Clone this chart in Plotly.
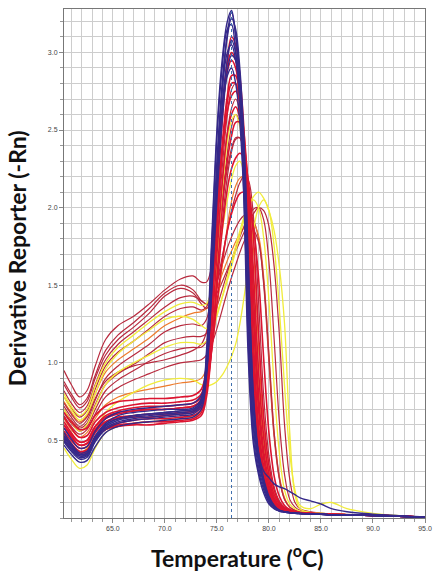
import plotly.graph_objects as go

# Temperature grid (deg C) shared by all melt curves
temps = [60.3, 61.0, 61.8, 62.5, 63.3, 64.3, 65.5, 67.0, 68.5, 70.0,
         71.5, 72.7, 73.5, 74.0, 74.5, 75.0, 75.5, 76.0, 76.4, 76.8,
         77.2, 77.6, 78.0, 78.5, 79.0, 79.5, 80.0, 80.5, 81.0, 81.5,
         82.0, 82.5, 83.0, 84.0, 85.0, 86.0, 87.5, 90.0, 92.5, 95.0]

x_tick_vals = [65, 70, 75, 80, 85, 90, 95]
x_tick_text = ["65.0", "70.0", "75.0", "80.0", "85.0", "90.0", "95.0"]
y_tick_vals = [0.5, 1.0, 1.5, 2.0, 2.5, 3.0]
y_tick_text = ["0.5", "1.0", "1.5", "2.0", "2.5", "3.0"]
tm_line = 76.4

# ---- hump curves (dark red) ----
hump_1 = [0.95, 0.86, 0.78, 0.82, 0.98, 1.15, 1.24, 1.30, 1.38, 1.47,
          1.54, 1.56, 1.52, 1.52, 1.62, 1.82, 2.05, 2.25, 2.38, 2.45,
          2.45, 2.35, 2.10, 1.55, 0.90, 0.48, 0.25, 0.13, 0.08, 0.055,
          0.045, 0.04, 0.035, 0.03, 0.027, 0.024, 0.021, 0.018, 0.012, 0.005]
hump_2 = [0.88, 0.80, 0.73, 0.77, 0.92, 1.08, 1.18, 1.26, 1.35, 1.45,
          1.50, 1.47, 1.40, 1.38, 1.42, 1.52, 1.63, 1.74, 1.81, 1.87,
          1.92, 1.95, 1.96, 1.92, 1.80, 1.50, 1.00, 0.52, 0.25, 0.12,
          0.07, 0.05, 0.04, 0.033, 0.028, 0.025, 0.022, 0.018, 0.012, 0.005]
hump_3 = [0.82, 0.74, 0.68, 0.72, 0.86, 1.02, 1.12, 1.20, 1.28, 1.36,
          1.42, 1.43, 1.40, 1.38, 1.40, 1.45, 1.52, 1.60, 1.66, 1.72,
          1.78, 1.84, 1.90, 1.96, 2.00, 1.98, 1.88, 1.62, 1.18, 0.60,
          0.25, 0.10, 0.06, 0.04, 0.032, 0.027, 0.023, 0.019, 0.013, 0.005]
hump_4 = [0.78, 0.71, 0.65, 0.69, 0.83, 0.98, 1.07, 1.14, 1.22, 1.30,
          1.35, 1.36, 1.34, 1.36, 1.50, 1.75, 2.05, 2.35, 2.52, 2.60,
          2.55, 2.35, 1.95, 1.20, 0.62, 0.33, 0.18, 0.10, 0.065, 0.048,
          0.04, 0.035, 0.031, 0.028, 0.026, 0.023, 0.02, 0.017, 0.012, 0.005]
hump_5 = [0.75, 0.68, 0.62, 0.66, 0.80, 0.94, 1.02, 1.09, 1.16, 1.24,
          1.29, 1.32, 1.33, 1.35, 1.40, 1.48, 1.57, 1.66, 1.72, 1.78,
          1.83, 1.87, 1.90, 1.90, 1.82, 1.55, 1.05, 0.55, 0.27, 0.13,
          0.07, 0.05, 0.04, 0.033, 0.028, 0.025, 0.022, 0.018, 0.012, 0.005]
hump_6 = [0.72, 0.65, 0.59, 0.63, 0.76, 0.90, 0.98, 1.05, 1.12, 1.20,
          1.24, 1.25, 1.24, 1.28, 1.48, 1.85, 2.25, 2.60, 2.76, 2.80,
          2.68, 2.38, 1.85, 1.00, 0.52, 0.29, 0.16, 0.09, 0.06, 0.045,
          0.038, 0.034, 0.031, 0.028, 0.026, 0.023, 0.02, 0.017, 0.012, 0.005]
hump_7 = [0.70, 0.63, 0.58, 0.61, 0.73, 0.86, 0.93, 0.99, 1.06, 1.13,
          1.16, 1.17, 1.17, 1.19, 1.26, 1.36, 1.47, 1.58, 1.66, 1.74,
          1.81, 1.88, 1.94, 1.99, 2.00, 1.92, 1.65, 1.15, 0.62, 0.28,
          0.12, 0.07, 0.05, 0.037, 0.03, 0.026, 0.022, 0.018, 0.012, 0.005]
hump_8 = [0.68, 0.61, 0.56, 0.59, 0.70, 0.82, 0.89, 0.95, 1.01, 1.06,
          1.09, 1.10, 1.10, 1.14, 1.30, 1.58, 1.90, 2.20, 2.36, 2.44,
          2.45, 2.32, 2.00, 1.35, 0.75, 0.40, 0.21, 0.12, 0.075, 0.052,
          0.042, 0.036, 0.032, 0.028, 0.026, 0.023, 0.02, 0.017, 0.012, 0.005]
hump_9 = [0.66, 0.59, 0.54, 0.57, 0.67, 0.78, 0.84, 0.89, 0.93, 0.97,
          1.00, 1.01, 1.02, 1.05, 1.12, 1.22, 1.34, 1.46, 1.55, 1.63,
          1.71, 1.78, 1.83, 1.85, 1.78, 1.52, 1.05, 0.55, 0.26, 0.12,
          0.07, 0.05, 0.04, 0.033, 0.028, 0.025, 0.022, 0.018, 0.012, 0.005]
hump_10 = [0.64, 0.57, 0.52, 0.55, 0.64, 0.73, 0.78, 0.81, 0.83, 0.85,
           0.87, 0.88, 0.90, 0.96, 1.10, 1.35, 1.62, 1.88, 2.04, 2.14,
           2.19, 2.20, 2.12, 1.75, 1.10, 0.58, 0.30, 0.16, 0.09, 0.06,
           0.045, 0.038, 0.033, 0.029, 0.026, 0.023, 0.02, 0.017, 0.012, 0.005]
hump_11 = [0.74, 0.67, 0.61, 0.65, 0.77, 0.88, 0.94, 0.98, 1.00, 1.02,
           1.05, 1.08, 1.12, 1.20, 1.42, 1.78, 2.15, 2.48, 2.64, 2.70,
           2.62, 2.35, 1.88, 1.05, 0.55, 0.30, 0.17, 0.10, 0.065, 0.048,
           0.04, 0.035, 0.031, 0.028, 0.026, 0.023, 0.02, 0.017, 0.012, 0.005]
hump_12 = [0.86, 0.78, 0.71, 0.75, 0.90, 1.05, 1.15, 1.23, 1.32, 1.43,
           1.48, 1.45, 1.38, 1.35, 1.40, 1.52, 1.68, 1.85, 1.98, 2.08,
           2.16, 2.20, 2.18, 1.95, 1.40, 0.78, 0.40, 0.20, 0.11, 0.07,
           0.05, 0.04, 0.034, 0.03, 0.027, 0.024, 0.021, 0.018, 0.012, 0.005]

# ---- yellow curves ----
yellow_1 = [0.78, 0.70, 0.63, 0.67, 0.80, 0.96, 1.06, 1.14, 1.21, 1.28,
            1.30, 1.28, 1.24, 1.22, 1.25, 1.32, 1.42, 1.53, 1.62, 1.72,
            1.82, 1.92, 2.00, 2.07, 2.10, 2.06, 1.98, 1.85, 1.62, 1.25,
            0.55, 0.15, 0.06, 0.035, 0.03, 0.026, 0.022, 0.018, 0.012, 0.005]
yellow_2 = [0.55, 0.48, 0.42, 0.45, 0.56, 0.68, 0.75, 0.81, 0.86, 0.89,
            0.90, 0.89, 0.86, 0.85, 0.86, 0.88, 0.92, 0.98, 1.04, 1.12,
            1.25, 1.42, 1.62, 1.85, 2.00, 2.05, 1.98, 1.75, 1.35, 0.85,
            0.42, 0.18, 0.08, 0.06, 0.09, 0.10, 0.06, 0.03, 0.015, 0.006]
yellow_3 = [0.45, 0.38, 0.32, 0.34, 0.45, 0.55, 0.59, 0.61, 0.62, 0.63,
            0.64, 0.65, 0.69, 0.82, 1.18, 1.65, 2.10, 2.42, 2.56, 2.60,
            2.52, 2.28, 1.90, 1.20, 0.65, 0.35, 0.19, 0.11, 0.07, 0.05,
            0.04, 0.035, 0.031, 0.028, 0.026, 0.023, 0.02, 0.017, 0.012, 0.005]
yellow_4 = [0.70, 0.62, 0.56, 0.60, 0.72, 0.86, 0.94, 1.00, 1.05, 1.10,
            1.13, 1.13, 1.12, 1.14, 1.20, 1.30, 1.42, 1.55, 1.65, 1.75,
            1.85, 1.94, 2.01, 2.05, 2.00, 1.80, 1.40, 0.85, 0.42, 0.18,
            0.09, 0.06, 0.045, 0.035, 0.03, 0.026, 0.022, 0.018, 0.012, 0.005]
yellow_5 = [0.80, 0.72, 0.66, 0.70, 0.85, 1.00, 1.10, 1.18, 1.26, 1.33,
            1.38, 1.39, 1.37, 1.38, 1.48, 1.65, 1.85, 2.05, 2.18, 2.27,
            2.30, 2.22, 1.98, 1.45, 0.85, 0.45, 0.24, 0.13, 0.08, 0.055,
            0.042, 0.036, 0.032, 0.028, 0.026, 0.023, 0.02, 0.017, 0.012, 0.005]

# ---- main red curves ----
red_1 = [0.60, 0.53, 0.47, 0.48, 0.57, 0.64, 0.67, 0.69, 0.70, 0.70,
         0.71, 0.72, 0.76, 0.92, 1.40, 2.00, 2.55, 2.95, 3.10, 3.05,
         2.85, 2.50, 1.90, 0.95, 0.48, 0.28, 0.16, 0.09, 0.06, 0.045,
         0.038, 0.034, 0.031, 0.028, 0.026, 0.023, 0.02, 0.017, 0.012, 0.005]
red_2 = [0.65, 0.58, 0.52, 0.53, 0.62, 0.68, 0.71, 0.73, 0.74, 0.74,
         0.75, 0.76, 0.80, 0.95, 1.35, 1.90, 2.40, 2.72, 2.85, 2.85,
         2.70, 2.40, 1.95, 1.15, 0.60, 0.33, 0.19, 0.11, 0.07, 0.05,
         0.04, 0.035, 0.031, 0.028, 0.026, 0.023, 0.02, 0.017, 0.012, 0.005]
red_3 = [0.52, 0.47, 0.42, 0.43, 0.51, 0.57, 0.60, 0.61, 0.62, 0.62,
         0.63, 0.64, 0.68, 0.82, 1.20, 1.70, 2.15, 2.48, 2.60, 2.65,
         2.58, 2.35, 2.00, 1.30, 0.70, 0.38, 0.21, 0.12, 0.07, 0.05,
         0.04, 0.035, 0.031, 0.028, 0.026, 0.023, 0.02, 0.017, 0.012, 0.005]
red_4 = [0.56, 0.50, 0.45, 0.46, 0.55, 0.62, 0.65, 0.66, 0.67, 0.67,
         0.68, 0.69, 0.73, 0.92, 1.45, 2.10, 2.62, 2.92, 3.00, 2.95,
         2.75, 2.35, 1.70, 0.85, 0.44, 0.26, 0.15, 0.09, 0.06, 0.045,
         0.038, 0.034, 0.031, 0.028, 0.026, 0.023, 0.02, 0.017, 0.012, 0.005]
red_5 = [0.68, 0.62, 0.57, 0.58, 0.66, 0.72, 0.75, 0.76, 0.77, 0.77,
         0.78, 0.79, 0.83, 0.98, 1.38, 1.90, 2.35, 2.62, 2.72, 2.75,
         2.68, 2.48, 2.12, 1.45, 0.80, 0.43, 0.24, 0.13, 0.08, 0.055,
         0.042, 0.036, 0.032, 0.029, 0.026, 0.023, 0.02, 0.017, 0.012, 0.005]
red_6 = [0.54, 0.48, 0.43, 0.44, 0.52, 0.57, 0.59, 0.60, 0.60, 0.61,
         0.62, 0.63, 0.66, 0.78, 1.10, 1.55, 1.98, 2.30, 2.46, 2.55,
         2.55, 2.42, 2.15, 1.60, 0.95, 0.52, 0.28, 0.15, 0.09, 0.06,
         0.045, 0.038, 0.033, 0.029, 0.026, 0.023, 0.02, 0.017, 0.012, 0.005]
red_7 = [0.62, 0.55, 0.49, 0.50, 0.59, 0.66, 0.69, 0.71, 0.72, 0.72,
         0.73, 0.74, 0.78, 0.96, 1.48, 2.10, 2.60, 2.88, 2.95, 2.90,
         2.70, 2.30, 1.65, 0.85, 0.45, 0.26, 0.15, 0.09, 0.06, 0.045,
         0.038, 0.034, 0.031, 0.028, 0.026, 0.023, 0.02, 0.017, 0.012, 0.005]
red_8 = [0.58, 0.52, 0.47, 0.48, 0.56, 0.62, 0.64, 0.65, 0.65, 0.66,
         0.67, 0.68, 0.71, 0.82, 1.10, 1.48, 1.85, 2.12, 2.25, 2.32,
         2.35, 2.32, 2.18, 1.82, 1.20, 0.65, 0.34, 0.18, 0.10, 0.065,
         0.048, 0.04, 0.034, 0.03, 0.027, 0.024, 0.021, 0.018, 0.012, 0.005]
red_9 = [0.60, 0.54, 0.49, 0.50, 0.59, 0.65, 0.68, 0.69, 0.70, 0.70,
         0.71, 0.72, 0.76, 0.86, 1.08, 1.38, 1.65, 1.85, 1.96, 2.04,
         2.09, 2.10, 2.05, 1.88, 1.55, 1.02, 0.55, 0.27, 0.14, 0.08,
         0.055, 0.043, 0.036, 0.03, 0.027, 0.024, 0.021, 0.018, 0.012, 0.005]
red_10 = [0.50, 0.45, 0.41, 0.42, 0.50, 0.58, 0.61, 0.63, 0.64, 0.64,
          0.65, 0.66, 0.70, 0.86, 1.30, 1.88, 2.35, 2.68, 2.80, 2.80,
          2.65, 2.32, 1.80, 1.00, 0.52, 0.30, 0.17, 0.10, 0.065, 0.048,
          0.04, 0.035, 0.031, 0.028, 0.026, 0.023, 0.02, 0.017, 0.012, 0.005]

# ---- blue curves ----
blue_1 = [0.50, 0.44, 0.39, 0.40, 0.50, 0.58, 0.62, 0.64, 0.65, 0.66,
          0.67, 0.68, 0.74, 1.00, 1.65, 2.30, 2.80, 3.12, 3.26, 3.12,
          2.85, 2.40, 1.40, 0.62, 0.36, 0.22, 0.12, 0.07, 0.05, 0.04,
          0.035, 0.032, 0.03, 0.027, 0.025, 0.022, 0.02, 0.017, 0.012, 0.005]
blue_2 = [0.55, 0.48, 0.42, 0.43, 0.53, 0.61, 0.66, 0.68, 0.69, 0.70,
          0.70, 0.71, 0.77, 1.05, 1.75, 2.45, 2.90, 3.15, 3.18, 3.00,
          2.70, 2.15, 1.15, 0.52, 0.30, 0.18, 0.10, 0.06, 0.045, 0.038,
          0.033, 0.03, 0.028, 0.026, 0.024, 0.021, 0.019, 0.016, 0.011, 0.004]
blue_3 = [0.47, 0.41, 0.36, 0.37, 0.46, 0.55, 0.59, 0.61, 0.62, 0.63,
          0.64, 0.65, 0.70, 0.92, 1.50, 2.15, 2.65, 2.95, 3.08, 3.00,
          2.75, 2.30, 1.55, 0.70, 0.38, 0.23, 0.13, 0.08, 0.05, 0.04,
          0.035, 0.031, 0.029, 0.026, 0.024, 0.021, 0.019, 0.016, 0.011, 0.004]
blue_4 = [0.52, 0.46, 0.40, 0.41, 0.51, 0.60, 0.64, 0.66, 0.67, 0.68,
          0.69, 0.70, 0.75, 0.95, 1.45, 2.05, 2.55, 2.88, 2.98, 2.95,
          2.75, 2.35, 1.65, 0.80, 0.42, 0.25, 0.14, 0.08, 0.05, 0.04,
          0.035, 0.031, 0.029, 0.026, 0.024, 0.021, 0.019, 0.016, 0.011, 0.004]
blue_5 = [0.49, 0.43, 0.38, 0.39, 0.49, 0.57, 0.61, 0.63, 0.64, 0.65,
          0.66, 0.67, 0.72, 0.93, 1.55, 2.20, 2.75, 3.10, 3.22, 3.15,
          2.90, 2.45, 1.70, 0.78, 0.40, 0.24, 0.13, 0.08, 0.05, 0.04,
          0.035, 0.031, 0.029, 0.026, 0.024, 0.021, 0.019, 0.016, 0.011, 0.004]
blue_6 = [0.58, 0.51, 0.45, 0.46, 0.56, 0.64, 0.68, 0.70, 0.71, 0.72,
          0.73, 0.74, 0.79, 1.02, 1.62, 2.22, 2.62, 2.85, 2.90, 2.80,
          2.55, 2.05, 1.25, 0.58, 0.33, 0.20, 0.11, 0.07, 0.045, 0.038,
          0.033, 0.03, 0.028, 0.026, 0.024, 0.021, 0.019, 0.016, 0.011, 0.004]
blue_7 = [0.51, 0.45, 0.40, 0.41, 0.51, 0.59, 0.63, 0.65, 0.66, 0.67,
          0.68, 0.69, 0.76, 1.08, 1.80, 2.50, 2.95, 3.20, 3.27, 3.10,
          2.75, 2.05, 1.05, 0.48, 0.28, 0.16, 0.09, 0.06, 0.045, 0.038,
          0.033, 0.03, 0.028, 0.026, 0.024, 0.021, 0.019, 0.016, 0.011, 0.004]
blue_8 = [0.53, 0.47, 0.41, 0.42, 0.52, 0.60, 0.64, 0.66, 0.67, 0.68,
          0.69, 0.70, 0.75, 0.98, 1.60, 2.25, 2.75, 3.00, 3.05, 2.95,
          2.70, 2.25, 1.50, 0.72, 0.42, 0.30, 0.26, 0.22, 0.20, 0.19,
          0.17, 0.15, 0.13, 0.11, 0.09, 0.06, 0.04, 0.025, 0.015, 0.006]

hump_curves = [hump_1, hump_2, hump_3, hump_4, hump_5, hump_6,
               hump_7, hump_8, hump_9, hump_10, hump_11, hump_12]
yellow_curves = [yellow_1, yellow_2, yellow_3, yellow_4, yellow_5]
red_curves = [red_1, red_2, red_3, red_4, red_5, red_6, red_7, red_8, red_9, red_10]
blue_curves = [blue_1, blue_2, blue_3, blue_4, blue_5, blue_6, blue_7, blue_8]

for grp in (hump_curves, yellow_curves, red_curves, blue_curves):
    for c in grp:
        if len(c) != len(temps):
            raise ValueError("bad length %d" % len(c))

HUMP = "#b82a3e"
ORANGE = "#ee7b2c"
YELLOW = "#f1ec3c"
RED = "#dc1430"
BLUE = "#35298a"

fig = go.Figure()

def add(vals, color, width):
    fig.add_trace(go.Scatter(x=temps, y=vals, mode="lines",
                             line=dict(color=color, width=width, shape="spline", smoothing=1.0),
                             hoverinfo="skip"))

for i, c in enumerate(hump_curves):
    add(c, ORANGE if i in (4, 9) else HUMP, 1.2)
for c in yellow_curves:
    add(c, YELLOW, 1.3)
for c in red_curves:
    add(c, RED, 1.6)
for c in blue_curves:
    add(c, BLUE, 1.4)

fig.add_shape(type="line", xref="x", yref="paper", x0=tm_line, x1=tm_line, y0=0, y1=1,
              line=dict(color="#3f6fae", width=1, dash="dot"))

tickfont = dict(family="Liberation Sans, Arial, sans-serif", size=7, color="#444444")
fig.update_xaxes(range=[60.3, 95.0], tickvals=x_tick_vals, ticktext=x_tick_text,
                 ticks="outside", ticklen=4, tickcolor="#888888", tickfont=tickfont,
                 ticklabeloverflow="allow",
                 showgrid=True, gridcolor="#cdcdcd", gridwidth=1,
                 minor=dict(tick0=60, dtick=1, showgrid=True, gridcolor="#cdcdcd",
                            ticks="outside", ticklen=3, tickcolor="#999999"),
                 showline=True, linecolor="#777777", linewidth=1, mirror=True, zeroline=False)
fig.update_yaxes(range=[0, 3.28], tickvals=y_tick_vals, ticktext=y_tick_text,
                 ticks="outside", ticklen=4, tickcolor="#888888", tickfont=tickfont,
                 showgrid=True, gridcolor="#cdcdcd", gridwidth=1,
                 minor=dict(tick0=0, dtick=0.1, showgrid=True, gridcolor="#cdcdcd",
                            ticks="outside", ticklen=3, tickcolor="#999999"),
                 showline=True, linecolor="#777777", linewidth=1, mirror=True, zeroline=False)

fig.update_layout(width=437, height=574, margin=dict(l=64, r=5, t=9, b=56),
                  plot_bgcolor="white", paper_bgcolor="white", showlegend=False,
                  annotations=[
                      dict(text="<b>Temperature (<sup>o</sup>C)</b>", xref="paper", yref="paper",
                           x=0.48, y=-0.075, xanchor="center", yanchor="middle", showarrow=False,
                           font=dict(family="Lato, Open Sans, sans-serif", size=23, color="#111111")),
                      dict(text="<b>Derivative Reporter (-Rn)</b>", xref="paper", yref="paper",
                           x=-0.128, y=0.51, xanchor="center", yanchor="middle", showarrow=False,
                           textangle=-90,
                           font=dict(family="Lato, Open Sans, sans-serif", size=23, color="#111111")),
                  ])

fig.write_html("out.html", config={"displayModeBar": False},
               post_script="document.body.style.margin='0px';document.body.style.overflow='hidden';")
